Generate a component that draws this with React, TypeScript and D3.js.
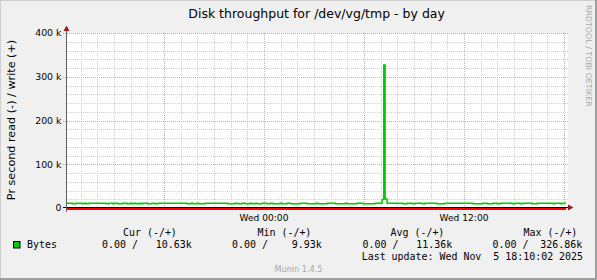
import React from "react";
import * as d3 from "d3";

const W = 597;
const H = 280;

const title = "Disk throughput for /dev/vg/tmp - by day";
const yAxisTitle = "Pr second read (-) / write (+)";
const yTickValues = [0, 100000, 200000, 300000, 400000];
const yTickLabels = ["0", "100 k", "200 k", "300 k", "400 k"];
const xLabelHours = [0, 12];
const xLabels = ["Wed 00:00", "Wed 12:00"];

// write series as step change points: minutes relative to Wed 00:00, value in k bytes/s
const stepMinutes = [
  -709, -688, -677, -655, -648, -641, -630, -569, -558, -544, -540, -526, -508,
  -493, -482, -475, -468, -461, -450, -443, -436, -418, -403, -392, -382,
  -277, -263, -256, -241, -234, -212, -130, -104, -94, -79, -68, -50, -43, -32,
  -25, -7, 11, 22, 32, 58, 65, 83, 94, 130, 155, 187, 194, 227, 256, 292, 299,
  335, 356, 400, 425, 431, 436, 443, 500, 515, 533, 544, 569, 580, 623, 652,
  752, 788, 803, 824, 839, 850, 893, 904, 922, 932, 965, 983, 1040, 1048, 1066,
  1073,
];
const stepValues = [
  11.0, 9.95, 11.0, 9.95, 11.0, 9.95, 11.0, 9.95, 11.0, 9.95, 11.0, 9.95, 11.0,
  9.95, 11.0, 9.95, 11.0, 9.95, 11.0, 9.95, 11.0, 9.93, 11.0, 9.95, 11.0,
  9.95, 11.0, 9.95, 11.0, 9.95, 11.0, 9.95, 11.0, 9.95, 11.0, 9.95, 11.0, 9.95, 11.0,
  9.95, 11.0, 9.95, 11.0, 9.95, 11.0, 9.95, 11.0, 9.95, 11.0, 9.95, 11.0, 9.95,
  11.0, 9.95, 11.0, 9.95, 11.0, 9.95, 11.0, 19.5, 326.86, 20.5, 11.0, 9.95, 11.0,
  9.95, 11.0, 9.95, 11.0, 9.95, 11.0, 9.95, 11.0, 9.95, 11.0, 9.95, 11.0, 9.95,
  11.0, 9.95, 11.0, 9.95, 11.0, 9.95, 11.0, 9.95, 10.63,
];
const endMinute = 1087;

const legendSeries = "Bytes";
const legendHeaders = ["Cur (-/+)", "Min (-/+)", "Avg (-/+)", "Max (-/+)"];
const legendValues = [
  "0.00 /   10.63k",
  "0.00 /    9.93k",
  "0.00 /   11.36k",
  "0.00 /  326.86k",
];
const lastUpdate = "Last update: Wed Nov  5 18:10:02 2025";
const watermark = "Munin 1.4.5";
const sideText = "RRDTOOL / TOBI OETIKER";

const WED0 = new Date(2025, 10, 5, 0, 0, 0).getTime();
const t = (m: number) => new Date(WED0 + m * 60000);

const PL = 67;
const PR = 566;
const PT = 33;
const PB = 208;

export default function App() {
  const x = d3.scaleTime().domain([t(-709), t(endMinute)]).range([PL, PR]);
  const y = d3.scaleLinear().domain([0, 400000]).range([PB, PT]);

  const hours = d3.timeHour.range(t(-709), t(endMinute + 1));
  const minorY = d3.range(0, 400001, 20000);

  const pts: [Date, number][] = stepMinutes.map((m, i) => [t(m), stepValues[i] * 1000]);
  pts.push([t(endMinute), stepValues[stepValues.length - 1] * 1000]);
  const line = d3
    .line<[Date, number]>()
    .x((d) => x(d[0]))
    .y((d) => y(d[1]))
    .curve(d3.curveStepAfter);

  const px = (v: number) => Math.round(v) + 0.5;
  const sans = "DejaVu Sans, sans-serif";
  const mono = "DejaVu Sans Mono, monospace";

  const legendHeaderX = [123, 257.5, 390.5, 523.5];
  const legendValueX = [102, 232, 362.5, 492.5];

  return (
    <svg
      width={W}
      height={H}
      style={{ position: "absolute", left: 0, top: 0, display: "block" }}
    >
      <rect x={0} y={0} width={W} height={H} fill="#f0f0f0" />
      {/* frame */}
      <line x1={0} y1={0.5} x2={W} y2={0.5} stroke="#cfcfcf" />
      <line x1={0.5} y1={0} x2={0.5} y2={H} stroke="#cfcfcf" />
      <rect x={0} y={H - 2} width={W} height={2} fill="#9e9e9e" />
      <rect x={W - 2} y={0} width={2} height={H} fill="#9e9e9e" />

      {/* plot canvas */}
      <rect x={PL} y={PT} width={PR - PL + 2} height={PB - PT} fill="#ffffff" />

      {/* minor grid */}
      {hours
        .filter((h) => h.getHours() % 6 !== 0)
        .map((h, i) => (
          <line
            key={"vx" + i}
            x1={px(x(h))}
            x2={px(x(h))}
            y1={PT}
            y2={PB}
            stroke="#cfcfcf"
            strokeDasharray="1,1"
          />
        ))}
      {minorY
        .filter((v) => v % 100000 !== 0)
        .map((v, i) => (
          <line
            key={"hy" + i}
            x1={PL}
            x2={PR + 2}
            y1={px(y(v))}
            y2={px(y(v))}
            stroke="#cfcfcf"
            strokeDasharray="1,1"
          />
        ))}
      {/* major grid */}
      {hours
        .filter((h) => h.getHours() % 6 === 0)
        .map((h, i) => (
          <line
            key={"mx" + i}
            x1={px(x(h))}
            x2={px(x(h))}
            y1={PT}
            y2={PB + 3}
            stroke="#e6a0a0"
            strokeDasharray="1,1"
          />
        ))}
      {yTickValues
        .filter((v) => v > 0)
        .map((v, i) => (
          <line
            key={"my" + i}
            x1={PL - 4}
            x2={PR + 2}
            y1={px(y(v))}
            y2={px(y(v))}
            stroke="#e6a0a0"
            strokeDasharray="1,1"
          />
        ))}

      {/* data */}
      <path d={line(pts) || ""} fill="none" stroke="#00cc00" strokeWidth={1.5} />

      {/* zero lines */}
      <rect x={PL} y={PB} width={PR - PL} height={2} fill="#ff0000" />
      <line x1={PL - 4} x2={PR + 3} y1={PB - 0.5} y2={PB - 0.5} stroke="#000000" />

      {/* y axis */}
      <line x1={PL - 0.5} x2={PL - 0.5} y1={28} y2={PB + 4} stroke="#606060" />
      <path
        d={`M${PL - 3.5},${31} L${PL - 0.5},${25.5} L${PL + 2.5},${31} Z`}
        fill="#9b1c1c"
      />
      <path
        d={`M${PR + 2},${PB - 3.5} L${PR + 7.5},${PB - 0.5} L${PR + 2},${PB + 2.5} Z`}
        fill="#9b1c1c"
      />

      {/* y tick labels */}
      {yTickValues.map((v, i) => (
        <text
          key={"yl" + i}
          x={61.5}
          y={y(v) + 3.4}
          textAnchor="end"
          fontFamily={sans}
          fontSize={9.4}
          fill="#000"
        >
          {yTickLabels[i]}
        </text>
      ))}

      {/* x labels */}
      {xLabelHours.map((h, i) => (
        <text
          key={"xl" + i}
          x={x(t(h * 60))}
          y={220.5}
          textAnchor="middle"
          fontFamily={sans}
          fontSize={9.1}
          fill="#000"
        >
          {xLabels[i]}
        </text>
      ))}

      {/* title */}
      <text x={188.3} y={18} fontFamily={sans} fontSize={12.5} fill="#000">
        {title}
      </text>

      {/* y axis title */}
      <text
        transform="translate(14.5,120) rotate(-90)"
        textAnchor="middle"
        fontFamily={sans}
        fontSize={11.2}
        fill="#000"
      >
        {yAxisTitle}
      </text>

      {/* side text */}
      <text
        transform="translate(586,5) rotate(90)"
        fontFamily={sans}
        fontSize={7.9}
        fill="#a8a8a8"
      >
        {sideText}
      </text>

      {/* legend */}
      {legendHeaders.map((s, i) => (
        <text
          key={"lh" + i}
          x={legendHeaderX[i]}
          y={235.8}
          fontFamily={mono}
          fontSize={9.95}
          fill="#000"
          style={{ whiteSpace: "pre" }}
        >
          {s}
        </text>
      ))}
      <rect x={13.5} y={241.5} width={6.5} height={6.5} fill="#00cc00" stroke="#000" />
      <text x={27} y={247.8} fontFamily={mono} fontSize={9.95} fill="#000">
        {legendSeries}
      </text>
      {legendValues.map((s, i) => (
        <text
          key={"lv" + i}
          x={legendValueX[i]}
          y={247.8}
          fontFamily={mono}
          fontSize={9.95}
          fill="#000"
          style={{ whiteSpace: "pre" }}
        >
          {s}
        </text>
      ))}
      <text
        x={361.7}
        y={260.2}
        fontFamily={mono}
        fontSize={9.95}
        fill="#000"
        style={{ whiteSpace: "pre" }}
      >
        {lastUpdate}
      </text>
      <text
        x={298.5}
        y={272.2}
        textAnchor="middle"
        fontFamily={sans}
        fontSize={8.1}
        fill="#a8a8a8"
      >
        {watermark}
      </text>
    </svg>
  );
}
